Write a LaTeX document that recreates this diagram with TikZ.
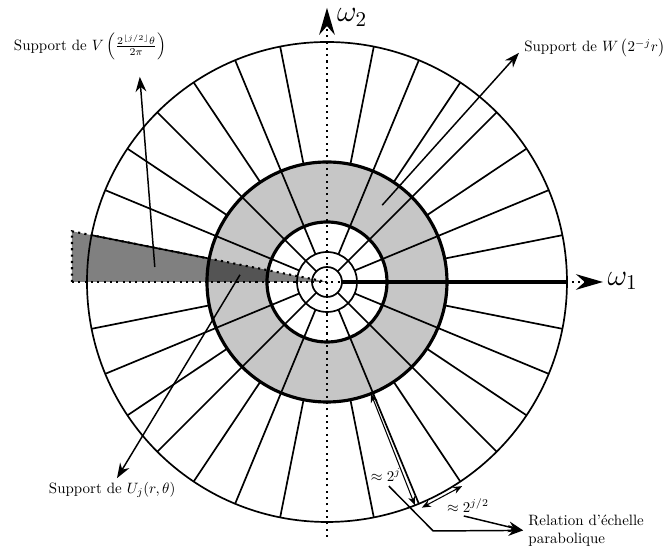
\documentclass[tikz,border=0pt]{standalone}
\usepackage{amsmath,amssymb}
\usepackage{tikz}
\usetikzlibrary{arrows.meta}

\begin{document}
\begin{tikzpicture}[
  wedge/.style={line width=0.8pt},
  ring/.style={line width=1.5pt},
  axis/.style={dotted, line width=1pt, -{Stealth[length=4.5mm,width=2.6mm]}},
  arrow/.style={-{Stealth[length=2.5mm,width=1.8mm]}, line width=0.7pt},
  measure/.style={{Stealth[length=1.5mm,width=1.2mm]}-{Stealth[length=1.5mm,width=1.2mm]}, line width=0.5pt},
  lab/.style={scale=0.71}
]
\useasboundingbox (-5.45,-4.45) rectangle (5.667,4.7);
\fill[gray!45, even odd rule] (0,0) circle (2) (0,0) circle (1);
\fill[gray] (0,0) -- (-4.25,0) -- (-4.25,0.845) -- cycle;
\begin{scope}
  \clip (0,0) -- (-4.25,0) -- (-4.25,0.845) -- cycle;
  \fill[black!67, even odd rule] (0,0) circle (2) (0,0) circle (1);
\end{scope}
\foreach \q in {0,90,180,270}{
  \foreach \a in {11.25,33.75,56.25,78.75} \draw[wedge] (\q+\a:2) -- (\q+\a:4);
  \foreach \a in {22.5,67.5} \draw[wedge] (\q+\a:0.5) -- (\q+\a:4);
  \draw[wedge] (\q+45:0.25) -- (\q+45:4);
}
\draw[wedge] (0,0) circle (4);
\draw[ring] (0,0) circle (2);
\draw[ring] (0,0) circle (1);
\draw[wedge] (0,0) circle (0.5);
\draw[wedge] (0,0) circle (0.25);
\draw[ring] (0.25,0) -- (4,0);
\draw[dotted, line width=1pt] (-4.25,0) -- (-4.25,0.845) -- (0,0);
\draw[axis] (-4.25,0) -- (4.6,0);
\draw[axis] (0,-4.25) -- (0,4.57);
\node (w1) at (4.93,0.02) {\Large $\omega_1$};
\node[inner sep=0pt] (w2) at (0.42,4.41) {\Large $\omega_2$};
\node[lab] (labV) at (-3.95,3.92) {Support de $V\left(\frac{2^{\lfloor j/2\rfloor}\theta}{2\pi}\right)$};
\node[lab, anchor=east] (labW) at (5.72,3.9) {Support de $W\left(2^{-j}r\right)$};
\node[lab] (labU) at (-3.58,-3.47) {Support de $U_j(r,\theta)$};
\node[lab, align=left, anchor=west] (rel) at (3.27,-4.14) {Relation d'échelle\\parabolique};
\node[lab] (m1) at (0.98,-3.22) {$\approx 2^j$};
\node[lab] (m2) at (2.35,-3.73) {$\approx 2^{j/2}$};
\coordinate (vin) at (-2.87,0.25);
\coordinate (vout) at (-3.12,3.42);
\coordinate (win) at (0.92,1.28);
\coordinate (wout) at (3.2,3.82);
\coordinate (uin) at (-1.45,0.12);
\coordinate (uout) at (-3.5,-3.27);
\coordinate (r1) at (1.03,-3.4);
\coordinate (r2) at (1.77,-4.15);
\coordinate (r3) at (2.28,-3.9);
\draw[arrow] (vin) -- (vout);
\draw[arrow] (win) -- (wout);
\draw[arrow] (uin) -- (uout);
\draw[arrow] (r1) -- (r2) -- (rel.west);
\draw[arrow] (r3) -- (rel.west);
\draw[measure] (-68.5:2) -- (-68.5:4);
\draw[measure] (-67.2:4.08) -- (-56.5:4.08);
\end{tikzpicture}
\end{document}
